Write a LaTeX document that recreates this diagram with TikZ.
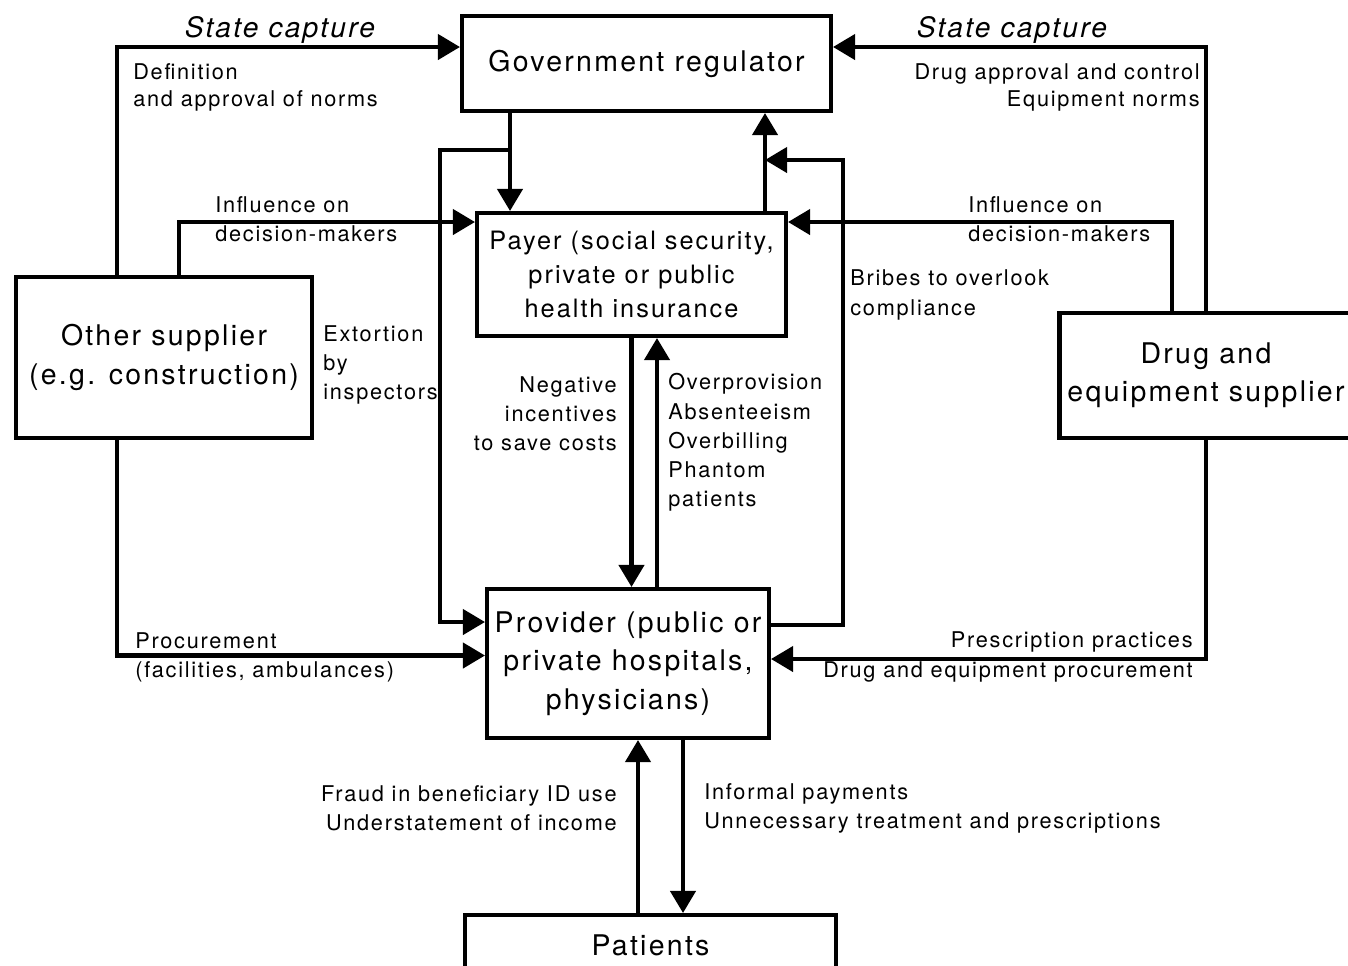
\documentclass[tikz,border=0pt]{standalone}
\usepackage{fontspec}
\setmainfont{TeX Gyre Heros}[LetterSpace=8]
\usetikzlibrary{arrows.meta,positioning}

\begin{document}
\begin{tikzpicture}[
  box/.style={draw,line width=2.3pt,align=center,inner sep=2pt},
  bigtext/.style={font=\fontsize{16.2}{21.8}\selectfont},
  note/.style={inner sep=0pt,font=\fontsize{12.35}{16.6}\selectfont},
  link/.style={line width=2.3pt,-{Triangle[length=0.44cm,width=0.5cm]}}
]
\clip (0,0) rectangle (26.96,-19.3);
\fill[white] (0,0) rectangle (26.96,-19.3);
% boxes
\node[box,bigtext,minimum width=7.38cm,minimum height=1.9cm] (gov) at (12.93,-1.27) {Government regulator};
\node[box,font=\fontsize{14.4}{19.4}\selectfont,minimum width=6.18cm,minimum height=2.46cm] (payer) at (12.63,-5.49) {Payer (social security,\\private or public\\health insurance};
\node[box,bigtext,minimum width=5.92cm,minimum height=3.22cm] (other) at (3.28,-7.15) {Other supplier\\(e.g. construction)};
\node[box,bigtext,minimum width=5.86cm,minimum height=2.5cm] (drug) at (24.12,-7.51) {Drug and\\equipment supplier};
\node[box,bigtext,minimum width=5.64cm,minimum height=2.98cm] (provider) at (12.56,-13.27) {Provider (public or\\private hospitals,\\physicians)};
\node[box,bigtext,minimum width=7.42cm,minimum height=1.2cm] (patients) at (13.01,-18.9) {Patients};
% junctions
\coordinate (gj) at ([xshift=-2.73cm,yshift=-0.74cm]gov.south);
\coordinate (pj) at (15.3,-3.2);
% connectors
\draw[link] ([xshift=-0.94cm]other.north) |- ([yshift=0.33cm]gov.west);
\draw[link] ([xshift=0.30cm]other.north) |- ([yshift=1.05cm]payer.west);
\draw[link] ([xshift=-2.73cm]gov.south) -- ([xshift=-2.73cm]gov.south |- payer.north);
\draw[link] (gj) -- ++(-1.4,0) |- ([yshift=0.83cm]provider.west);
\draw[link] ([xshift=-0.94cm]other.south) |- ([yshift=0.16cm]provider.west);
\draw[link] (payer.south) -- (payer.south |- provider.north);
\draw[link] ([xshift=0.51cm]payer.south |- provider.north) -- ([xshift=0.51cm]payer.south);
\draw[link] ([xshift=2.67cm]payer.north) -- ([xshift=2.67cm]payer.north |- gov.south);
\draw[link] ([yshift=0.77cm]provider.east) -- ++(1.44,0) |- (pj);
\draw[link] ([xshift=-0.68cm]drug.north) |- ([yshift=1.05cm]payer.east);
\draw[link] (drug.north) |- ([yshift=0.33cm]gov.east);
\draw[link] (drug.south) |- ([yshift=0.09cm]provider.east);
\draw[link] ([xshift=-0.25cm]patients.north) -- ([xshift=-0.25cm]patients.north |- provider.south);
\draw[link] ([xshift=1.1cm]provider.south) -- ([xshift=1.1cm]provider.south |- patients.north);
% labels
\node[note,font=\fontsize{16}{20}\selectfont\itshape] (capl) at (5.6,-0.6) {State capture};
\node[note,font=\fontsize{16}{20}\selectfont\itshape] (capr) at (20.24,-0.6) {State capture};
\node[note,anchor=west,align=left,font=\fontsize{12.35}{15.4}\selectfont] (norms) at (2.66,-1.75) {Definition\\and approval of norms};
\node[note,anchor=east,align=right,font=\fontsize{12.35}{15.4}\selectfont] (approval) at (24.0,-1.75) {Drug approval and control\\Equipment norms};
\node[note,anchor=west,align=left] (inflL) at (4.3,-4.39) {Influence on\\decision-makers};
\node[note,anchor=west,align=left] (inflR) at (19.36,-4.39) {Influence on\\decision-makers};
\node[note,anchor=west,align=left] (extort) at (6.46,-7.3) {Extortion\\by\\inspectors};
\node[note,anchor=west,align=left] (bribes) at (17.0,-5.9) {Bribes to overlook\\compliance};
\node[note,anchor=east,align=right] (negative) at (12.34,-8.27) {Negative\\incentives\\to save costs};
\node[note,anchor=west,align=left] (overprov) at (13.36,-8.85) {Overprovision\\Absenteeism\\Overbilling\\Phantom\\patients};
\node[note,anchor=west,align=left] (procure) at (2.7,-13.14) {Procurement\\(facilities, ambulances)};
\node[note,anchor=east,align=right] (prescr) at (23.86,-13.14) {Prescription practices\\Drug and equipment procurement};
\node[note,anchor=east,align=right] (fraud) at (12.34,-16.16) {Fraud in beneficiary ID use\\Understatement of income};
\node[note,anchor=west,align=left] (informal) at (14.08,-16.16) {Informal payments\\Unnecessary treatment and prescriptions};
\end{tikzpicture}
\end{document}
